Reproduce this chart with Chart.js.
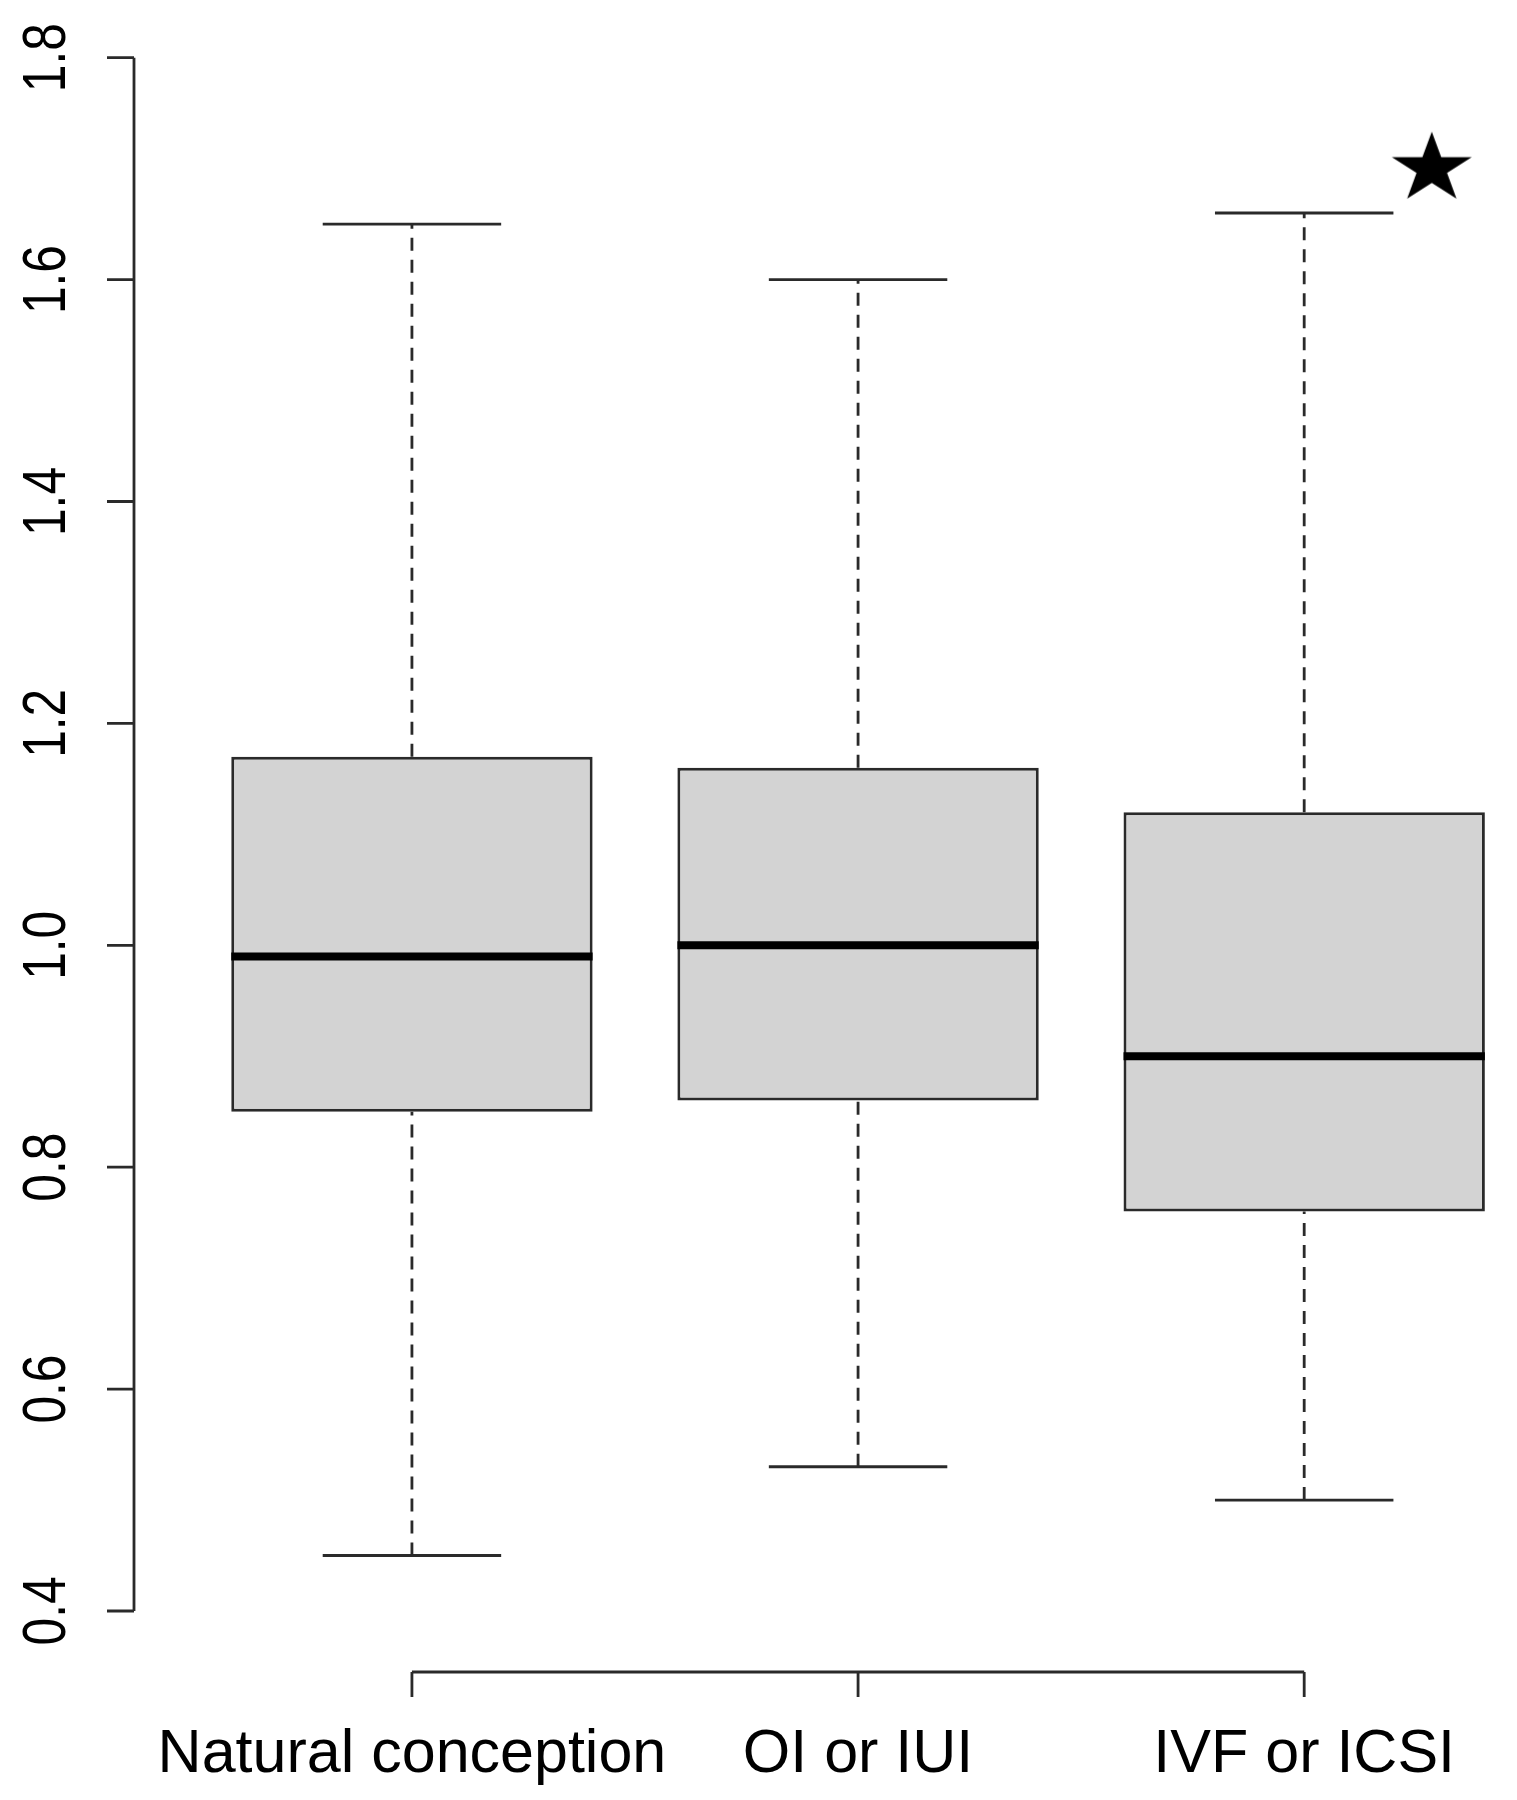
<!DOCTYPE html>
<html>
<head>
<meta charset="utf-8">
<title>Boxplot by mode of conception</title>
<script src="https://cdn.jsdelivr.net/npm/chart.js@4.4.1/dist/chart.umd.min.js"></script>
<style>
  html, body { margin: 0; padding: 0; background: #ffffff; }
  #chart-wrap { width: 1517px; height: 1800px; }
</style>
</head>
<body>
<div id="chart-wrap"><canvas id="box-chart" width="1517" height="1800"></canvas></div>
<script>
// Values
const categories = ['Natural conception', 'OI or IUI', 'IVF or ICSI'];
const positions = [1, 2, 3];
const whiskerLow = [0.45, 0.53, 0.50];
const q1 = [0.85, 0.86, 0.76];
const medians = [0.99, 1.00, 0.90];
const q3 = [1.17, 1.16, 1.12];
const whiskerHigh = [1.65, 1.60, 1.66];
const yTicks = [0.4, 0.6, 0.8, 1.0, 1.2, 1.4, 1.6, 1.8];
const yTickLabels = ['0.4', '0.6', '0.8', '1.0', '1.2', '1.4', '1.6', '1.8'];
const starPoints = [{ x: 3.286, y: 1.70 }];

// Styles
const lineColor = '#2a2a2a';
const boxFill = '#d3d3d3';
const boxHalf = 0.405;
const capHalf = 0.2;
const fontFamily = '"Liberation Sans", Arial, Helvetica, sans-serif';

// Filled five-point star used as a point style
function makeStar(rx, ry) {
  const c = document.createElement('canvas');
  c.width = Math.ceil(rx * 2 + 4);
  c.height = Math.ceil(ry * 2 + 4);
  const g = c.getContext('2d');
  const cx = c.width / 2;
  const cy = c.height / 2;
  g.beginPath();
  for (let i = 0; i < 10; i++) {
    const r = i % 2 === 0 ? 1 : 0.382;
    const a = -Math.PI / 2 + i * Math.PI / 5;
    const px = cx + Math.cos(a) * rx * r;
    const py = cy + Math.sin(a) * ry * r;
    if (i === 0) g.moveTo(px, py); else g.lineTo(px, py);
  }
  g.closePath();
  g.fillStyle = '#000000';
  g.fill();
  return c;
}

// Plain line segment dataset
function segment(points, style) {
  return Object.assign({
    type: 'line',
    data: points,
    borderColor: lineColor,
    borderWidth: 2.8,
    pointRadius: 0,
    pointHoverRadius: 0,
    fill: false,
    tension: 0
  }, style);
}

// Build datasets
const datasets = [];

datasets.push({
  type: 'bar',
  label: 'IQR',
  data: positions.map((x, i) => ({ x: x, y: [q1[i], q3[i]] })),
  backgroundColor: boxFill,
  borderColor: lineColor,
  borderWidth: 3,
  borderSkipped: false,
  categoryPercentage: 1,
  barPercentage: 0.81,
  order: 3
});

positions.forEach((x, i) => {
  // median
  datasets.push(segment([
    { x: x - boxHalf, y: medians[i] },
    { x: x + boxHalf, y: medians[i] }
  ], { borderColor: '#000000', borderWidth: 8, order: 1 }));

  // whiskers
  datasets.push(segment([
    { x: x, y: q3[i] },
    { x: x, y: whiskerHigh[i] }
  ], { borderDash: [13, 9], order: 4 }));
  datasets.push(segment([
    { x: x, y: whiskerLow[i] },
    { x: x, y: q1[i] }
  ], { borderDash: [13, 9], order: 4 }));

  // staples
  datasets.push(segment([
    { x: x - capHalf, y: whiskerHigh[i] },
    { x: x + capHalf, y: whiskerHigh[i] }
  ], { order: 4 }));
  datasets.push(segment([
    { x: x - capHalf, y: whiskerLow[i] },
    { x: x + capHalf, y: whiskerLow[i] }
  ], { order: 4 }));
});

datasets.push({
  type: 'line',
  label: 'significant',
  data: starPoints,
  showLine: false,
  pointStyle: makeStar(42, 37),
  pointRadius: 10,
  pointHoverRadius: 10,
  order: 0
});

// R style axes drawn from the chart's scales
const rAxes = {
  id: 'rAxes',
  afterDatasetsDraw(chart) {
    const { ctx, chartArea, scales } = chart;
    const x = scales.x;
    const y = scales.y;
    const ax = chartArea.left;
    const ay = chartArea.bottom;

    ctx.save();
    ctx.strokeStyle = lineColor;
    ctx.lineWidth = 2.8;
    ctx.lineCap = 'butt';

    // y axis line and ticks
    ctx.beginPath();
    ctx.moveTo(ax, y.getPixelForValue(yTicks[0]));
    ctx.lineTo(ax, y.getPixelForValue(yTicks[yTicks.length - 1]));
    yTicks.forEach(v => {
      const py = y.getPixelForValue(v);
      ctx.moveTo(ax, py);
      ctx.lineTo(ax - 27, py);
    });
    ctx.stroke();

    // x axis line and ticks
    ctx.beginPath();
    ctx.moveTo(x.getPixelForValue(positions[0]), ay);
    ctx.lineTo(x.getPixelForValue(positions[positions.length - 1]), ay);
    positions.forEach(v => {
      const px = x.getPixelForValue(v);
      ctx.moveTo(px, ay);
      ctx.lineTo(px, ay + 25);
    });
    ctx.stroke();

    // y tick labels, rotated
    ctx.fillStyle = '#000000';
    ctx.textAlign = 'center';
    ctx.textBaseline = 'alphabetic';
    ctx.font = '62px ' + fontFamily;
    yTicks.forEach((v, i) => {
      ctx.save();
      ctx.translate(65, y.getPixelForValue(v));
      ctx.rotate(-Math.PI / 2);
      ctx.scale(0.8, 1);
      ctx.fillText(yTickLabels[i], 0, 0);
      ctx.restore();
    });

    // category labels
    ctx.font = '61px ' + fontFamily;
    positions.forEach((v, i) => {
      ctx.fillText(categories[i], x.getPixelForValue(v), ay + 100);
    });

    ctx.restore();
  }
};

// Render chart
const ctx = document.getElementById('box-chart').getContext('2d');
const boxChart = new Chart(ctx, {
  type: 'bar',
  data: { datasets: datasets },
  options: {
    responsive: false,
    animation: false,
    events: [],
    layout: {
      autoPadding: false,
      padding: { left: 134, right: 0, top: 0, bottom: 128 }
    },
    plugins: {
      legend: { display: false },
      tooltip: { enabled: false }
    },
    scales: {
      x: {
        type: 'linear',
        min: 0.377,
        max: 3.477,
        offset: false,
        display: false,
        afterBuildTicks: scale => {
          scale.ticks = positions.map(v => ({ value: v }));
        }
      },
      y: {
        type: 'linear',
        min: 0.345,
        max: 1.852,
        display: false
      }
    }
  },
  plugins: [rAxes]
});
</script>
</body>
</html>
